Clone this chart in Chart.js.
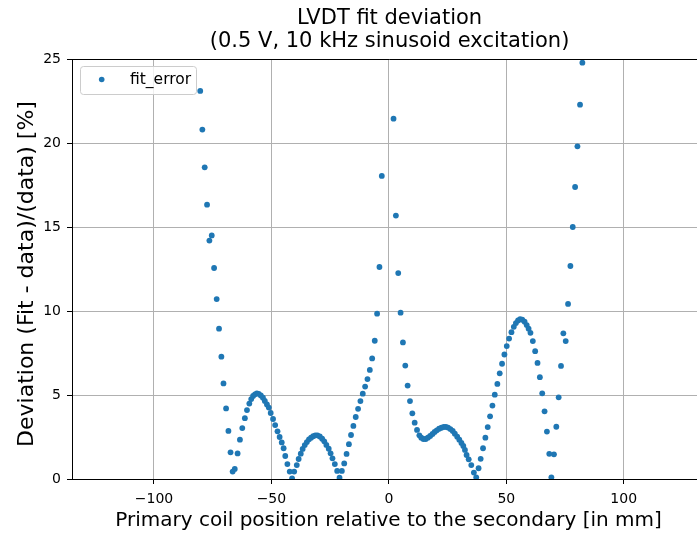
<!DOCTYPE html>
<html>
<head>
<meta charset="utf-8">
<script src="https://cdn.jsdelivr.net/npm/chart.js@4.4.1/dist/chart.umd.min.js"></script>
<style>
  html, body { margin: 0; padding: 0; background: #fff; overflow: hidden; }
  #wrap { position: relative; width: 710px; height: 533px; }
</style>
</head>
<body>
<div id="wrap"><canvas id="lvdtChart" width="710" height="533"></canvas></div>
<script>
// ------------------------------------------------------------
// LVDT fit deviation
// ------------------------------------------------------------

// primary coil position [mm]
const positionMm = [
  -80.3, -79.4, -78.4, -77.4, -76.4, -75.4, -74.4, -73.3, -72.3, -71.3,
  -70.4, -69.3, -68.3, -67.4, -66.5, -65.6, -64.4, -63.4, -62.4, -61.3,
  -60.4, -59.4, -58.6, -57.8, -57.0, -56.2, -55.4, -54.5, -53.6, -52.8,
  -51.9, -51.1, -50.3, -49.3, -48.4, -47.4, -46.5, -45.6, -44.8, -44.1,
  -43.2, -42.2, -41.2, -40.3, -39.2, -38.4, -37.5, -36.7, -35.8, -34.9,
  -34.0, -33.1, -32.2, -31.3, -30.4, -29.4, -28.4, -27.5, -26.6, -25.6,
  -24.8, -24.0, -23.0, -22.0, -21.0, -20.0, -19.0, -18.0, -17.0, -16.1,
  -15.1, -14.1, -13.1, -12.1, -11.1, -10.1, -9.1, -8.1, -7.1, -6.0,
  -5.0, -4.0, -3.0, 2.0, 3.0, 4.0, 5.0, 6.0, 7.0, 8.0,
  9.0, 10.0, 11.0, 12.0, 13.0, 13.8, 14.7, 15.7, 16.6, 17.6,
  18.6, 19.5, 20.4, 21.4, 22.4, 23.4, 24.3, 25.2, 26.2, 27.2,
  28.1, 29.1, 30.0, 30.9, 31.7, 32.4, 33.1, 34.0, 35.1, 36.2,
  37.2, 38.2, 39.1, 40.1, 41.1, 42.1, 43.1, 44.1, 45.1, 46.2,
  47.2, 48.2, 49.2, 50.2, 51.2, 52.2, 53.2, 54.1, 55.0, 55.9,
  56.8, 57.8, 58.7, 59.5, 60.3, 61.3, 62.3, 63.3, 64.3, 65.3,
  66.3, 67.3, 68.3, 69.2, 70.3, 71.3, 72.3, 73.3, 74.3, 75.3,
  76.3, 77.3, 78.3, 79.3, 80.3, 81.4, 82.4
];

// (fit - data)/data [%]
const fitErrorPct = [
  23.1, 20.8, 18.55, 16.33, 14.19, 14.5, 12.56, 10.71, 8.95, 7.28,
  5.69, 4.2, 2.86, 1.59, 0.44, 0.6, 1.52, 2.34, 3.03, 3.62,
  4.1, 4.49, 4.76, 4.94, 5.04, 5.1, 5.07, 4.97, 4.84, 4.65,
  4.44, 4.25, 3.93, 3.57, 3.21, 2.84, 2.5, 2.18, 1.83, 1.37,
  0.89, 0.44, 0.04, 0.44, 0.83, 1.19, 1.51, 1.79, 2.02, 2.2,
  2.36, 2.46, 2.55, 2.6, 2.6, 2.53, 2.4, 2.24, 2.03, 1.8,
  1.53, 1.23, 0.89, 0.48, 0.08, 0.48, 0.93, 1.49, 2.07, 2.62,
  3.16, 3.69, 4.18, 4.64, 5.08, 5.5, 5.95, 6.49, 7.18, 8.23,
  9.84, 12.62, 18.04, 21.45, 15.68, 12.26, 9.9, 8.13, 6.75, 5.56,
  4.64, 3.91, 3.35, 2.92, 2.6, 2.46, 2.38, 2.38, 2.46, 2.56,
  2.68, 2.8, 2.9, 2.99, 3.05, 3.1, 3.1, 3.06, 2.97, 2.86,
  2.7, 2.52, 2.34, 2.15, 1.97, 1.73, 1.43, 1.17, 0.83, 0.38,
  0.1, 0.64, 1.2, 1.83, 2.46, 3.09, 3.73, 4.37, 5.02, 5.66,
  6.29, 6.86, 7.41, 7.91, 8.36, 8.74, 9.06, 9.28, 9.44, 9.52,
  9.48, 9.36, 9.16, 8.95, 8.7, 8.21, 7.61, 6.91, 6.06, 5.1,
  4.03, 2.82, 1.5, 0.1, 1.47, 3.11, 4.86, 6.73, 8.67, 8.21,
  10.42, 12.68, 15.0, 17.38, 19.8, 22.28, 24.78
];

const xTicks = [-100, -50, 0, 50, 100];
const yTicks = [0, 5, 10, 15, 20, 25];

const BLUE = '#1f77b4';
const FONT = "'DejaVu Sans', sans-serif";
const minus = v => String(v).replace('-', '\u2212');

// titles, top spine and in-axes legend (matplotlib look)
const decorations = {
  id: 'decorations',
  afterDraw(chart) {
    const { ctx, chartArea: a } = chart;
    const cx = (a.left + a.right) / 2;
    ctx.save();

    // top spine
    ctx.strokeStyle = '#000';
    ctx.lineWidth = 1;
    ctx.beginPath();
    ctx.moveTo(a.left, a.top + 0.5);
    ctx.lineTo(a.right, a.top + 0.5);
    ctx.stroke();

    // title
    ctx.fillStyle = '#000';
    ctx.textAlign = 'center';
    ctx.textBaseline = 'middle';
    ctx.font = '21px ' + FONT;
    ctx.fillText('LVDT fit deviation', cx, 19);
    ctx.fillText('(0.5 V, 10 kHz sinusoid excitation)', cx, 42);

    // axis labels
    ctx.font = '20px ' + FONT;
    ctx.fillText('Primary coil position relative to the secondary [in mm]', cx - 1, 521);
    ctx.save();
    ctx.translate(27, 274);
    ctx.rotate(-Math.PI / 2);
    ctx.font = '22px ' + FONT;
    ctx.fillText('Deviation (Fit - data)/(data) [%]', 0, 0);
    ctx.restore();

    // legend
    const bx = 80.5, by = 66.5, bw = 116, bh = 28, r = 3;
    ctx.beginPath();
    ctx.roundRect(bx, by, bw, bh, r);
    ctx.fillStyle = 'rgba(255,255,255,0.8)';
    ctx.fill();
    ctx.strokeStyle = '#cccccc';
    ctx.stroke();
    ctx.fillStyle = BLUE;
    ctx.beginPath();
    ctx.arc(101.7, 79.5, 2.8, 0, Math.PI * 2);
    ctx.fill();
    ctx.fillStyle = '#000';
    ctx.textAlign = 'left';
    ctx.font = '15.5px ' + FONT;
    ctx.fillText(chart.data.datasets[0].label, 130, 80);

    ctx.restore();
  }
};

new Chart(document.getElementById('lvdtChart'), {
  type: 'scatter',
  data: {
    datasets: [{
      label: 'fit_error',
      data: positionMm.map((x, i) => ({ x, y: fitErrorPct[i] })),
      backgroundColor: BLUE,
      borderWidth: 0,
      pointRadius: 2.9,
      pointHoverRadius: 2.9
    }]
  },
  options: {
    responsive: false,
    animation: false,
    events: [],
    layout: { padding: { top: 59, right: 0, bottom: 0, left: 0 } },
    plugins: {
      legend: { display: false },
      title: { display: false },
      tooltip: { enabled: false }
    },
    scales: {
      x: {
        type: 'linear',
        min: -134.9,
        max: 135.5,
        afterFit: s => { s.height = 54; },
        afterBuildTicks: s => { s.ticks = xTicks.map(value => ({ value })); },
        grid: { color: '#b0b0b0', lineWidth: 1, tickColor: '#000', tickLength: 5 },
        border: { color: '#000', width: 1 },
        ticks: {
          color: '#000',
          font: { family: FONT, size: 14 },
          padding: 7,
          maxRotation: 0,
          callback: v => minus(v)
        }
      },
      y: {
        min: 0,
        max: 25,
        afterFit: s => { s.width = 72; },
        afterBuildTicks: s => { s.ticks = yTicks.map(value => ({ value })); },
        grid: { color: '#b0b0b0', lineWidth: 1, tickColor: '#000', tickLength: 5 },
        border: { color: '#000', width: 1 },
        ticks: {
          color: '#000',
          font: { family: FONT, size: 14 },
          padding: 6,
          callback: v => minus(v)
        }
      }
    }
  },
  plugins: [decorations]
});
</script>
</body>
</html>
